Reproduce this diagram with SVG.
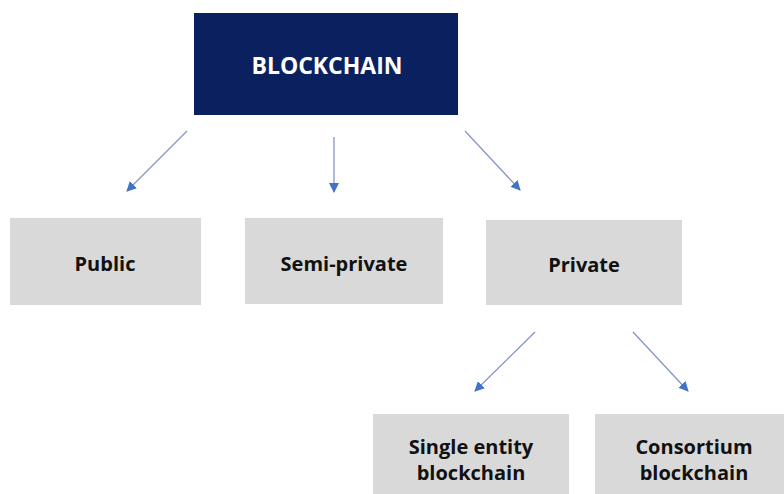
<svg xmlns="http://www.w3.org/2000/svg" width="784" height="494" viewBox="0 0 784 494">
<defs>
<marker id="ah" viewBox="0 0 10 10" refX="9" refY="5" markerWidth="10" markerHeight="10" markerUnits="userSpaceOnUse" orient="auto">
<path d="M0,0 L10,5 L0,10 z" fill="#4472c4"/>
</marker>
<style>
.box{fill:#d9d9d9}
.top{fill:#0b215f}
.t{font-family:"Open Sans","Liberation Sans",sans-serif;font-weight:bold;text-anchor:middle;fill:#111}
.tw{font-family:"Open Sans","Liberation Sans",sans-serif;font-weight:bold;text-anchor:middle;fill:#fff;font-size:23px}
.c{stroke:#8496c6;stroke-width:1.3;fill:none;marker-end:url(#ah)}
</style>
</defs>
<rect width="784" height="494" fill="#fff"/>
<g id="blockchain"><rect class="top" x="194" y="13" width="264" height="102"/><text class="tw" x="327" y="74">BLOCKCHAIN</text></g>
<g id="public"><rect class="box" x="10" y="218" width="191" height="87"/><text class="t" x="105" y="271" font-size="20">Public</text></g>
<g id="semi-private"><rect class="box" x="245" y="218" width="198" height="86"/><text class="t" x="344" y="271" font-size="20">Semi-private</text></g>
<g id="private"><rect class="box" x="486" y="220" width="196" height="85"/><text class="t" x="584" y="272" font-size="20">Private</text></g>
<g id="single-entity"><rect class="box" x="373" y="414" width="196" height="80"/><text class="t" x="471" y="454" font-size="20">Single entity</text><text class="t" x="471" y="480" font-size="20">blockchain</text></g>
<g id="consortium"><rect class="box" x="595" y="414" width="189" height="80"/><text class="t" x="694" y="454" font-size="20">Consortium</text><text class="t" x="694" y="480" font-size="20">blockchain</text></g>
<g id="connectors">
<line class="c" x1="187" y1="131" x2="127" y2="191"/>
<line class="c" x1="334" y1="137" x2="334" y2="192"/>
<line class="c" x1="465" y1="131" x2="520" y2="190"/>
<line class="c" x1="535" y1="332" x2="475" y2="391"/>
<line class="c" x1="633" y1="332" x2="688" y2="391"/>
</g>
</svg>
